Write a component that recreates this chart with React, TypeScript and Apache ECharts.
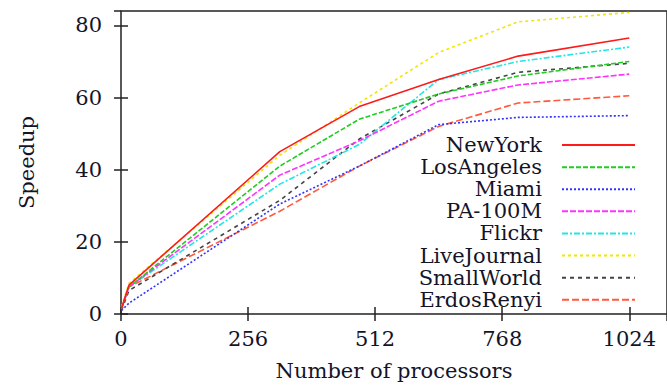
import React, { useEffect, useRef } from "react";
import * as echarts from "echarts";

const processors = [1, 16, 320, 480, 640, 800, 1024];
const seriesNames = ["NewYork", "LosAngeles", "Miami", "PA-100M", "Flickr", "LiveJournal", "SmallWorld", "ErdosRenyi"];
const newYork = [1.5, 8, 45, 57.5, 65, 71.5, 76.5];
const losAngeles = [1.5, 7.5, 41, 54, 61, 66, 70];
const miami = [1, 3, 30.5, 41, 52.5, 54.5, 55];
const pa100m = [1.5, 7.5, 38.5, 48, 59, 63.5, 66.5];
const flickr = [1.5, 7.5, 36, 47, 65, 70, 74];
const liveJournal = [2, 8.5, 44, 58.5, 72.5, 81, 83.6];
const smallWorld = [1, 6.5, 31.5, 48.5, 61, 67, 69.5];
const erdosRenyi = [1.5, 7.5, 28.5, 41, 52, 58.5, 60.5];
const xTicks = [0, 256, 512, 768, 1024];
const yTicks = [0, 20, 40, 60, 80];

const allValues = [newYork, losAngeles, miami, pa100m, flickr, liveJournal, smallWorld, erdosRenyi];
const colors = ["#ff1a1a", "#22cc22", "#3333ff", "#ff33ff", "#22e6e6", "#f2e600", "#444444", "#ff5a3c"];
const dashes: any[] = ["solid", [5, 2], [2, 2], [6, 2], [6, 2, 2, 2], [3, 3], [4, 4], [7, 3]];

const FONT = "DejaVu Serif";

export default function App() {
  const ref = useRef<HTMLDivElement>(null);
  useEffect(() => {
    const chart = echarts.init(ref.current!, null, { renderer: "svg" });
    const textColor = "#141428";
    const xAxisBase = {
      type: "value",
      min: 0,
      max: 1100,
      interval: xTicks[1] - xTicks[0],
      splitLine: { show: false },
      axisLine: { show: false },
    };
    const yAxisBase = {
      type: "value",
      min: 0,
      max: 84,
      interval: yTicks[1] - yTicks[0],
      splitLine: { show: false },
      axisLine: { show: false },
    };
    chart.setOption({
      animation: false,
      backgroundColor: "#ffffff",
      grid: {
        left: 121,
        top: 11,
        width: 548,
        height: 305,
        show: true,
        borderColor: "#222222",
        borderWidth: 1.5,
        backgroundColor: "transparent",
      },
      xAxis: [
        {
          ...xAxisBase,
          position: "bottom",
          name: "Number of processors",
          nameLocation: "middle",
          nameGap: 46,
          nameTextStyle: { fontFamily: FONT, fontSize: 21, color: textColor },
          axisTick: { show: true, inside: true, length: 7, lineStyle: { color: "#222", width: 1.5 } },
          axisLabel: {
            fontFamily: FONT,
            fontSize: 21,
            color: textColor,
            margin: 14,
            showMaxLabel: false,
            formatter: (v: number) => (xTicks.indexOf(v) >= 0 ? String(v) : ""),
          },
        },
        {
          ...xAxisBase,
          position: "top",
          axisTick: { show: true, inside: true, length: 7, lineStyle: { color: "#222", width: 1.5 } },
          axisLabel: { show: false },
        },
      ],
      yAxis: [
        {
          ...yAxisBase,
          position: "left",
          name: "Speedup",
          nameLocation: "middle",
          nameGap: 84,
          nameTextStyle: { fontFamily: FONT, fontSize: 21, color: textColor },
          axisTick: { show: true, inside: true, length: 7, lineStyle: { color: "#222", width: 1.5 } },
          axisLabel: {
            fontFamily: FONT,
            fontSize: 21,
            color: textColor,
            margin: 19,
            showMaxLabel: false,
            formatter: (v: number) => (yTicks.indexOf(v) >= 0 ? String(v) : ""),
          },
        },
        {
          ...yAxisBase,
          position: "right",
          axisTick: { show: true, inside: true, length: 7, lineStyle: { color: "#222", width: 1.5 } },
          axisLabel: { show: false },
        },
      ],
      legend: {
        orient: "vertical",
        right: 31,
        top: 134,
        padding: 0,
        itemGap: 0,
        align: "right",
        itemWidth: 73,
        itemHeight: 12,
        data: seriesNames,
        itemStyle: { opacity: 0, borderWidth: 0 },
        textStyle: {
          fontFamily: FONT,
          fontSize: 21,
          lineHeight: 22.1,
          color: textColor,
          padding: [0, 15, 0, 0],
        },
      },
      series: seriesNames.map((name, i) => ({
        name,
        type: "line",
        xAxisIndex: 0,
        yAxisIndex: 0,
        symbol: "none",
        data: processors.map((p, j) => [p, allValues[i][j]]),
        lineStyle: { color: colors[i], width: 1.6, type: dashes[i] },
        itemStyle: { color: colors[i] },
        z: 10 - i,
      })),
    });
    return () => chart.dispose();
  }, []);
  return (
    <div
      ref={ref}
      style={{ position: "absolute", left: 0, top: 0, width: 667, height: 386 }}
    />
  );
}
